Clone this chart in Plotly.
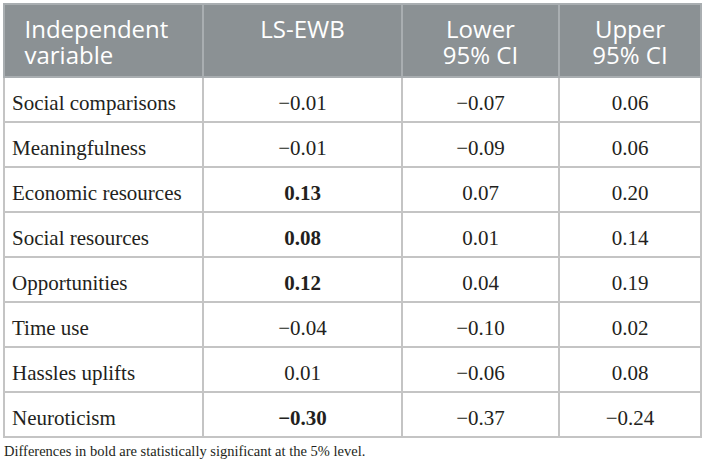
import plotly.graph_objects as go

variables = [
    "Social comparisons", "Meaningfulness", "Economic resources", "Social resources",
    "Opportunities", "Time use", "Hassles uplifts", "Neuroticism",
]
ls_ewb = ["−0.01", "−0.01", "0.13", "0.08", "0.12", "−0.04", "0.01", "−0.30"]
significant = [False, False, True, True, True, False, False, True]
lower_ci = ["−0.07", "−0.09", "0.07", "0.01", "0.04", "−0.10", "−0.06", "−0.37"]
upper_ci = ["0.06", "0.06", "0.20", "0.14", "0.19", "0.02", "0.08", "−0.24"]
header_line1 = ["Independent", "LS-EWB", "Lower", "Upper"]
header_line2 = ["variable", "", "95% CI", "95% CI"]
footnote = "Differences in bold are statistically significant at the 5% level."

W, H = 702, 471
COL_W = [199, 199, 157, 142]
TOP = 4
HEAD_H, ROW_H = 73, 45
HEAD_DROP = 8     # plotly puts cell text near the top of a cell; nudge it down
HEAD_LEAD = 26    # line gap inside the header
BODY_DROP = 9
CLEAR = "rgba(0,0,0,0)"
NO_LINE = dict(width=0, color=CLEAR)

n = len(variables)
blank = [""] * n
ls_plain = ["" if s else v for v, s in zip(ls_ewb, significant)]
ls_bold = [v if s else "" for v, s in zip(ls_ewb, significant)]
head_font = dict(family="Open Sans", size=24, color="white")
head_align = ["left", "center", "center", "center"]
body_align = ["left", "center", "center", "center"]
indent = "\u00a0\u00a0"


def dom(offset):
    return dict(x=[4 / W, 701 / W], y=[0, 1 - (TOP + offset) / H])


def header_text(values, offset):
    return go.Table(
        columnwidth=COL_W,
        header=dict(values=[indent + values[0]] + values[1:], font=head_font,
                    align=head_align, fill_color=CLEAR, line=NO_LINE, height=HEAD_LEAD),
        cells=dict(values=[[]] * 4, fill_color=CLEAR, line=NO_LINE),
        domain=dom(offset),
    )


def body_text(columns, weight):
    return go.Table(
        columnwidth=COL_W,
        header=dict(values=[""] * 4, fill_color=CLEAR, line=NO_LINE, height=HEAD_H),
        cells=dict(
            values=columns,
            fill_color=CLEAR,
            font=dict(family="Liberation Serif", size=21, color="#231f20", weight=weight),
            align=body_align,
            line=NO_LINE,
            height=ROW_H,
        ),
        domain=dom(BODY_DROP),
    )


# grid only
grid = go.Table(
    columnwidth=COL_W,
    header=dict(values=[""] * 4, fill_color="#8b9194",
                line=dict(color="#a9aeb1", width=2), height=HEAD_H),
    cells=dict(values=[blank] * 4, fill_color="white",
               line=dict(color="#c4c4c4", width=2), height=ROW_H),
    domain=dom(0),
)

fig = go.Figure([
    grid,
    header_text(header_line1, HEAD_DROP),
    header_text(header_line2, HEAD_DROP + HEAD_LEAD),
    body_text([variables, ls_plain, lower_ci, upper_ci], "normal"),
    body_text([blank, ls_bold, blank, blank], "bold"),
])

fig.add_annotation(
    text=footnote, x=2 / W, y=1 - 451 / H, xref="paper", yref="paper",
    xanchor="left", yanchor="middle", showarrow=False,
    font=dict(family="Liberation Serif", size=14.5, color="#231f20"),
)

fig.update_layout(
    width=W, height=H,
    margin=dict(l=0, r=0, t=0, b=0),
    paper_bgcolor="white",
)

fig.write_html("out.html", config={"displayModeBar": False},
               post_script="document.body.style.margin = '0';")
